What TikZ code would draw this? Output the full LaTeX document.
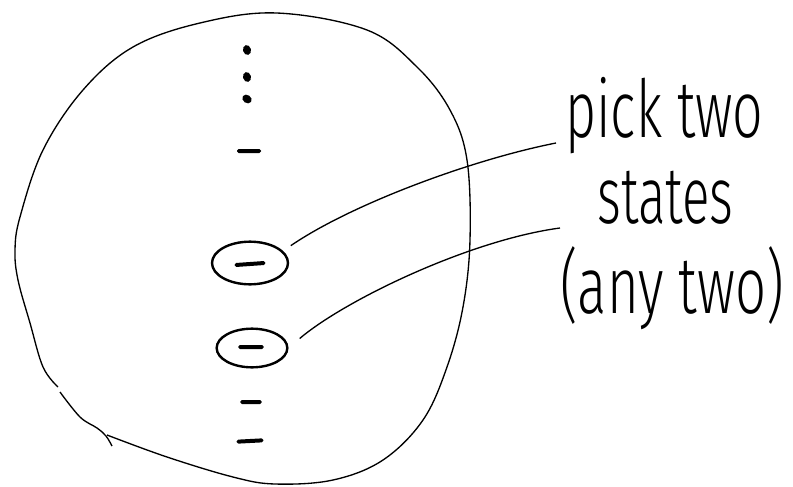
\documentclass[tikz,border=0pt]{standalone}
\usepackage{graphicx}
\usepackage{fontspec}
\newfontfamily\handfont{Fira Sans Light}
\usetikzlibrary{shapes.geometric}

\tikzset{
  bar/.style={fill=black, inner sep=0pt, minimum width=16pt, minimum height=3pt, rounded corners=1.2pt},
  ring/.style={draw, ellipse, line width=1.8pt, inner sep=0pt, minimum width=55pt, minimum height=33pt},
  dotmark/.style={fill=black, ellipse, inner sep=0pt, minimum width=6pt, minimum height=7.5pt, rotate=15},
  link/.style={line width=1pt},
  hand/.style={inner sep=0pt, anchor=base west, font=\handfont\fontsize{60}{60}\selectfont}
}

\begin{document}
\begin{tikzpicture}[x=0.75pt, y=-0.75pt]
\useasboundingbox (0,0) rectangle (793,486);

% Blob
\draw[line width=1pt] plot[smooth, tension=0.6] coordinates {
  (107,435) (167,457) (233,477) (275,484) (333,480) (383,460) (423,420)
  (447,367) (463,307) (470,240) (467,160) (450,110) (417,67) (367,30)
  (277,13) (200,23) (133,47) (83,90) (43,150) (20,217) (15,250)
  (18,280) (30,323) (43,367) (58,387)};
\draw[line width=1pt] plot[smooth, tension=0.6] coordinates {
  (60,392) (80,417) (97,428) (106,436) (112,446)};

% Dots
\node[dotmark] (d1) at (247,50) {};
\node[dotmark] (d2) at (247,77) {};
\node[dotmark, rotate=40] (d3) at (247,99) {};

% Bars
\node[bar, minimum width=18pt] (b1) at (249,151) {};
\node[bar, minimum width=23pt, rotate=4] (b2) at (250,264) {};
\node[bar, minimum width=19pt] (b3) at (251,347) {};
\node[bar, minimum width=16pt] (b4) at (251,402) {};
\node[bar, minimum width=20pt, rotate=3] (b5) at (250,441) {};

% Picked states
\node[ring, minimum width=57pt, minimum height=32pt] (pick1) at (250,263) {};
\node[ring, minimum width=53pt, minimum height=29pt] (pick2) at (252,348) {};

% Text
\node[hand] (t1) at (565,137) {\scalebox{0.67}[1]{pick two}};
\node[hand] (t2) at (597,223) {\scalebox{0.64}[1]{states}};
\node[hand] (t3) at (560,313) {\scalebox{0.68}[1]{(any two)}};

\coordinate (e1) at (556,143);
\coordinate (e2) at (560,228);

% Links
\draw[link, shorten <=7pt] (pick1.20) .. controls (350,205) and (470,160) .. (e1);
\draw[link, shorten <=11pt] (pick2.east) .. controls (345,300) and (470,240) .. (e2);
\end{tikzpicture}
\end{document}
